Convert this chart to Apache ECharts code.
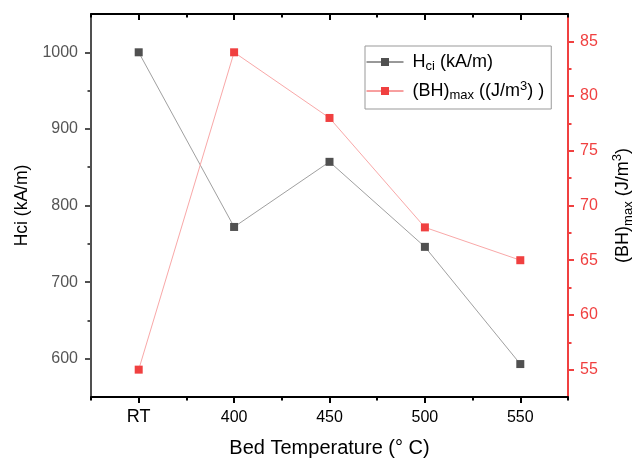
<!DOCTYPE html>
<html>
<head>
<meta charset="utf-8">
<script src="https://cdn.jsdelivr.net/npm/echarts@6/dist/echarts.min.js"></script>
<style>
  html, body { margin: 0; padding: 0; background: #fff; }
  #chart { width: 643px; height: 459px; }
</style>
</head>
<body>
<div id="chart"></div>
<script>
// Bed temperature settings (RT = room temperature)
const temperatures = ['RT', '400', '450', '500', '550'];
// Coercivity Hci, kA/m
const hciValues = [1000, 772, 857, 746, 593];
// Maximum energy product (BH)max, J/m^3
const bhMaxValues = [55, 84, 78, 68, 65];

const hciTicks = [600, 700, 800, 900, 1000];
const hciMinorTicks = [650, 750, 850, 950];
const bhTicks = [55, 60, 65, 70, 75, 80, 85];
const bhMinorTicks = [57.5, 62.5, 67.5, 72.5, 77.5, 82.5];

const FONT = 'Arial, "Liberation Sans", sans-serif';
const GRAY = '#505050';
const RED = '#f04040';
const MAJOR = 6;
const MINOR = 3.5;

const xPos = temperatures.map((_, i) => i + 1);
const xMinor = [0.5, 1.5, 2.5, 3.5, 4.5, 5.5];

const hciData = hciValues.map((v, i) => [xPos[i], v]);
const bhData = bhMaxValues.map((v, i) => [xPos[i], v]);

const chart = echarts.init(document.getElementById('chart'), null, { renderer: 'canvas' });

function xAxisBase(position) {
  return {
    type: 'value', position: position, min: 0.5, max: 5.5,
    splitLine: { show: false },
    axisLine: { show: true, onZero: false, lineStyle: { color: '#000', width: 2 } },
    axisLabel: { show: false },
    axisTick: { show: false }
  };
}
function yAxisBase(position, min, max, color) {
  return {
    type: 'value', position: position, min: min, max: max,
    splitLine: { show: false },
    axisLine: { show: true, onZero: false, lineStyle: { color: color, width: 2 } },
    axisLabel: { show: false },
    axisTick: { show: false }
  };
}

const xMain = xAxisBase('bottom');
xMain.axisTick = { show: true, customValues: xPos, length: MAJOR, lineStyle: { color: '#000', width: 2 } };
xMain.axisLabel = {
  show: true, customValues: xPos, margin: 11,
  formatter: v => {
    const t = temperatures[Math.round(v) - 1];
    return t === 'RT' ? '{big|RT}' : '{n|' + t + '}';
  },
  rich: {
    big: { fontFamily: FONT, fontSize: 18, color: '#000', lineHeight: 18 },
    n: { fontFamily: FONT, fontSize: 16, color: '#000', lineHeight: 18, verticalAlign: 'bottom' }
  }
};
xMain.name = 'Bed Temperature (° C)';
xMain.nameLocation = 'middle';
xMain.nameGap = 41;
xMain.nameTextStyle = { fontFamily: FONT, fontSize: 20, color: '#000' };

const xMinorAx = xAxisBase('bottom');
xMinorAx.axisLine.show = false;
xMinorAx.axisTick = { show: true, customValues: xMinor, length: MINOR, lineStyle: { color: '#000', width: 2 } };

const xTop = xAxisBase('top');
xTop.axisTick = { show: true, inside: true, customValues: xPos, length: MAJOR, lineStyle: { color: '#000', width: 2 } };
const xTopMinor = xAxisBase('top');
xTopMinor.axisLine.show = false;
xTopMinor.axisTick = { show: true, inside: true, customValues: xMinor, length: MINOR, lineStyle: { color: '#000', width: 2 } };

const yLeft = yAxisBase('left', 550, 1050, GRAY);
yLeft.axisTick = { show: true, customValues: hciTicks, length: MAJOR, lineStyle: { color: GRAY, width: 2 } };
yLeft.axisLabel = {
  show: true, customValues: hciTicks, margin: 13,
  fontFamily: FONT, fontSize: 16, color: '#555',
  formatter: v => String(v)
};
yLeft.name = 'Hci (kA/m)';
yLeft.nameLocation = 'middle';
yLeft.nameGap = 59;
yLeft.nameTextStyle = { fontFamily: FONT, fontSize: 17.5, color: '#000' };

const yLeftMinor = yAxisBase('left', 550, 1050, GRAY);
yLeftMinor.axisLine.show = false;
yLeftMinor.axisTick = { show: true, customValues: hciMinorTicks, length: MINOR, lineStyle: { color: GRAY, width: 2 } };

const yRight = yAxisBase('right', 52.5, 87.5, RED);
yRight.axisTick = { show: true, customValues: bhTicks, length: MAJOR, lineStyle: { color: RED, width: 2 } };
yRight.axisLabel = { show: true, customValues: bhTicks, margin: 12, fontFamily: FONT, fontSize: 16, color: RED };
yRight.name = '{a|(BH)}{s|max}{a| (J/m}{p|3}{a|)}';
yRight.nameLocation = 'middle';
yRight.nameGap = 43;
yRight.nameRotate = 90;
yRight.nameTextStyle = {
  fontFamily: FONT, fontSize: 18, color: '#000',
  rich: {
    a: { fontFamily: FONT, fontSize: 18, color: '#000', lineHeight: 24 },
    s: { fontFamily: FONT, fontSize: 13, color: '#000', lineHeight: 13, verticalAlign: 'bottom' },
    p: { fontFamily: FONT, fontSize: 13, color: '#000', lineHeight: 13, verticalAlign: 'top' }
  }
};

const yRightMinor = yAxisBase('right', 52.5, 87.5, RED);
yRightMinor.axisLine.show = false;
yRightMinor.axisTick = { show: true, customValues: bhMinorTicks, length: MINOR, lineStyle: { color: RED, width: 2 } };

const option = {
  animation: false,
  backgroundColor: '#fff',
  grid: { left: 91, right: 75, top: 14, bottom: 62, containLabel: false, outerBoundsMode: 'none' },
  legend: {
    orient: 'vertical',
    left: 365, top: 46,
    padding: [7, 7, 7, 1],
    itemGap: 7,
    itemWidth: 37,
    itemHeight: 10,
    borderColor: '#999',
    borderWidth: 1,
    borderRadius: 0,
    data: [
      { name: 'Hci', itemStyle: { color: GRAY }, lineStyle: { color: '#333', width: 1 } },
      { name: 'BHmax', itemStyle: { color: RED }, lineStyle: { color: RED, width: 1 } }
    ],
    formatter: name => name === 'Hci'
      ? '{a|H}{s|ci}{a| (kA/m)}'
      : '{a|(BH)}{s|max}{a| ((J/m}{p|3}{a|) )}',
    textStyle: {
      fontFamily: FONT, fontSize: 18, color: '#000', padding: [0, 0, 0, 4],
      rich: {
        a: { fontFamily: FONT, fontSize: 18, color: '#000', lineHeight: 22 },
        s: { fontFamily: FONT, fontSize: 13, color: '#000', lineHeight: 13, verticalAlign: 'bottom' },
        p: { fontFamily: FONT, fontSize: 13, color: '#000', lineHeight: 13, verticalAlign: 'top' }
      }
    }
  },
  xAxis: [xMain, xMinorAx, xTop, xTopMinor],
  yAxis: [yLeft, yLeftMinor, yRight, yRightMinor],
  series: [
    {
      name: 'Hci', type: 'line', xAxisIndex: 0, yAxisIndex: 0,
      data: hciData, symbol: 'rect', symbolSize: 8,
      itemStyle: { color: GRAY },
      lineStyle: { color: '#a0a0a0', width: 1 },
      z: 3
    },
    {
      name: 'BHmax', type: 'line', xAxisIndex: 0, yAxisIndex: 2,
      data: bhData, symbol: 'rect', symbolSize: 8,
      itemStyle: { color: RED },
      lineStyle: { color: '#f9a8a8', width: 1 },
      z: 4
    }
  ]
};

chart.setOption(option);
</script>
</body>
</html>
